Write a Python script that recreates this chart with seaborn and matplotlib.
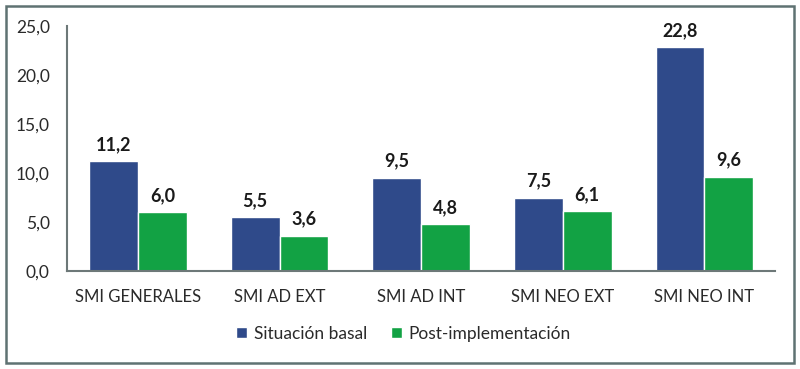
import matplotlib
matplotlib.use('Agg')
import matplotlib.pyplot as plt
import pandas as pd
import seaborn as sns
from matplotlib.patches import Rectangle

categories = ['SMI GENERALES', 'SMI AD EXT', 'SMI AD INT', 'SMI NEO EXT', 'SMI NEO INT']
basal = [11.2, 5.5, 9.5, 7.5, 22.8]
post = [6.0, 3.6, 4.8, 6.1, 9.6]
series = ['Situación basal', 'Post-implementación']
colors = ['#2F4A8A', '#12A244']

df = pd.DataFrame({
    'cat': categories * 2,
    'val': basal + post,
    'serie': [series[0]] * len(categories) + [series[1]] * len(categories),
})

sns.set_style('white')
plt.rcParams['font.family'] = ['Lato', 'DejaVu Sans']

fig = plt.figure(figsize=(8.0, 3.69), dpi=100)
ax = fig.add_axes([0.084, 0.265, 0.885, 0.665])

sns.barplot(data=df, x='cat', y='val', hue='serie', palette=colors,
            width=0.69, saturation=1, ax=ax, legend=True)

for cont in ax.containers:
    ax.bar_label(cont, labels=[f'{v:.1f}'.replace('.', ',') for v in cont.datavalues],
                 padding=6, fontsize=13, fontweight='bold', color='#1a1a1a')

ax.set_ylim(0, 25)
ax.set_yticks([0, 5, 10, 15, 20, 25])
ax.set_yticklabels([f'{t:.1f}'.replace('.', ',') for t in [0, 5, 10, 15, 20, 25]],
                   fontsize=12.5, color='#2a2a2a')
ax.tick_params(axis='x', labelsize=12, labelcolor='#2a2a2a', pad=9)
ax.tick_params(axis='y', pad=9)
ax.set_xlabel('')
ax.set_ylabel('')
for s in ['top', 'right']:
    ax.spines[s].set_visible(False)
ax.spines['left'].set_color('#6d7878')
ax.spines['bottom'].set_color('#6d7878')
ax.spines['left'].set_linewidth(1.5)
ax.spines['bottom'].set_linewidth(1.5)

ax.legend(loc='upper center', bbox_to_anchor=(0.475, -0.16), ncol=2, frameon=False,
          fontsize=12.5, handlelength=0.6, handleheight=0.6, handletextpad=0.4,
          columnspacing=1.4, labelcolor='#2a2a2a')

fig.patches.append(Rectangle((0.008, 0.015), 0.984, 0.97, transform=fig.transFigure,
                             fill=False, edgecolor='#5f7272', linewidth=1.8))

fig.savefig('out.png', dpi=100)
